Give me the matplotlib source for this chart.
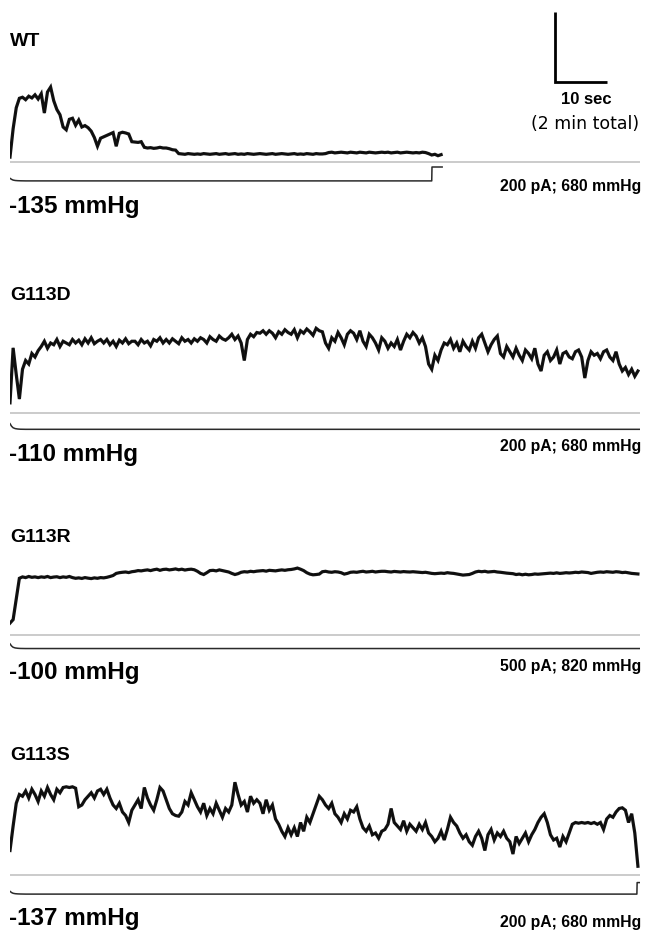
import numpy as np
import matplotlib
matplotlib.use("Agg")
import matplotlib.pyplot as plt

plt.rcParams['font.family'] = ['Liberation Sans', 'DejaVu Sans']

# ---------------- data ----------------
DT = 0.6
TOTAL_S = 121     # total record length shown (s) ~ 2 min

panels = ["WT", "G113D", "G113R", "G113S"]
pressure_labels = ["-135 mmHg", "-110 mmHg", "-100 mmHg", "-137 mmHg"]
scale_labels = ["200 pA; 680 mmHg", "200 pA; 680 mmHg",
                "500 pA; 820 mmHg", "200 pA; 680 mmHg"]
scale_pa = [200, 200, 500, 200]
scale_mmhg = [680, 680, 820, 680]
scale_sec = 10

# current traces (pA above closed level)
wt_current = [
    14, 95, 155, 182, 185, 178, 188, 183, 192, 180,
    195, 140, 200, 214, 175, 150, 135, 100, 92, 122,
    125, 105, 120, 100, 104, 98, 88, 70, 45, 68,
    72, 76, 80, 84, 45, 82, 85, 83, 80, 58,
    57, 56, 58, 42, 40, 41, 39, 40, 42, 40,
    40, 38, 35, 34, 24, 23, 22, 24, 23, 22,
    23, 22, 24, 23, 22, 23, 24, 22, 23, 24,
    22, 23, 24, 22, 23, 22, 24, 23, 22, 23,
    24, 23, 22, 23, 24, 22, 23, 24, 23, 22,
    23, 24, 22, 23, 22, 24, 23, 22, 24, 23,
    23, 24, 27, 28, 26, 27, 28, 27, 26, 28,
    27, 26, 28, 27, 26, 28, 27, 26, 27, 28,
    27, 28, 26, 27, 28, 26, 27, 28, 27, 26,
    27, 26, 28, 27, 24, 20, 22, 18, 21,
]

g113d_current = [
    29, 186, 110, 40, 125, 150, 140, 170, 160, 178,
    190, 205, 185, 200, 195, 210, 190, 205, 200, 195,
    210, 200, 208, 195, 212, 200, 215, 198, 205, 210,
    200, 210, 195, 205, 190, 208, 200, 212, 198, 205,
    205, 195, 210, 200, 205, 192, 210, 205, 215, 200,
    210, 200, 212, 205, 198, 215, 205, 210, 200, 212,
    205, 215, 210, 200, 218, 210, 205, 220, 212, 208,
    215, 225, 210, 220, 200, 150, 210, 225, 218, 230,
    228, 235, 225, 235, 228, 215, 232, 225, 238, 230,
    225, 238, 215, 235, 228, 240, 232, 222, 242, 235,
    232, 200, 185, 215, 205, 230, 215, 195, 225, 235,
    228, 210, 235, 205, 190, 225, 215, 200, 180, 215,
    205, 185, 200, 190, 210, 180, 205, 225, 215, 230,
    220, 200, 215, 190, 140, 125, 165, 150, 180, 200,
    195, 210, 185, 200, 175, 205, 190, 180, 205, 185,
    215, 225, 200, 175, 195, 210, 220, 170, 160, 190,
    175, 160, 185, 165, 150, 180, 170, 155, 185, 140,
    120, 165, 175, 150, 160, 180, 140, 170, 175, 160,
    155, 175, 180, 160, 100, 150, 175, 165, 170, 155,
    175, 180, 160, 150, 175, 140, 120, 130, 110, 125,
    105, 120,
]

g113r_current = [
    85, 110, 260, 405, 415, 410, 418, 412, 415, 410,
    415, 412, 418, 410, 414, 416, 410, 415, 412, 418,
    410, 405, 408, 404, 410, 406, 403, 408, 405, 410,
    408, 412, 418, 425, 440, 445, 448, 450, 446, 452,
    455, 460, 458, 462, 465, 460, 466, 470, 462, 468,
    470, 465, 468, 472, 466, 470, 464, 468, 470, 466,
    455, 440, 432, 445, 460, 462, 458, 465, 460, 455,
    450, 440, 432, 438, 448, 452, 450, 455, 452, 456,
    458, 460, 456, 462, 460, 458, 462, 465, 462, 466,
    468, 472, 478, 470, 460, 445, 435, 430, 432, 435,
    452, 455, 450, 448, 452, 450, 445, 435, 440, 448,
    450, 448, 452, 455, 450, 452, 455, 450, 453, 455,
    455, 452, 450, 454, 452, 450, 453, 451, 450, 452,
    450, 448, 446, 448, 444, 440, 438, 440, 442, 440,
    445, 442, 440, 436, 432, 428, 430, 432, 440, 450,
    455, 452, 455, 450, 452, 454, 450, 448, 445, 442,
    440, 438, 432, 435, 430, 434, 430, 432, 436, 434,
    436, 438, 440, 442, 440, 444, 440, 442, 445, 443,
    445, 448, 446, 450, 448, 446, 440, 444, 448, 450,
    448, 452, 450, 448, 452, 450, 446, 448, 444, 440,
    438, 436,
]

g113s_current = [
    70, 140, 205, 230, 225, 240, 220, 245, 230, 210,
    240, 225, 250, 230, 215, 245, 235, 250, 252, 250,
    252, 248, 195, 200, 215, 225, 235, 220, 240, 245,
    230, 245, 220, 200, 190, 205, 180, 170, 150, 185,
    200, 215, 190, 250, 220, 200, 185, 215, 250, 240,
    215, 190, 175, 170, 168, 180, 210, 200, 235, 215,
    195, 180, 205, 170, 190, 175, 205, 185, 165, 190,
    180, 200, 265, 230, 200, 210, 180, 225, 205, 215,
    205, 175, 215, 185, 200, 160, 145, 125, 110, 135,
    115, 135, 110, 150, 125, 165, 150, 175, 200, 225,
    215, 200, 190, 205, 175, 165, 150, 175, 160, 185,
    180, 195, 160, 135, 125, 140, 115, 120, 105, 125,
    130, 145, 190, 150, 140, 130, 155, 125, 145, 135,
    125, 145, 130, 150, 120, 110, 95, 105, 125, 100,
    130, 165, 150, 140, 120, 105, 115, 95, 85, 110,
    125, 105, 70, 115, 130, 100, 120, 110, 125, 105,
    95, 60, 110, 90, 105, 120, 95, 115, 130, 150,
    165, 175, 150, 115, 100, 105, 80, 110, 95, 120,
    145, 150, 148, 150, 148, 150, 147, 150, 145, 150,
    130, 160, 170, 165, 180, 190, 192, 185, 150, 175,
    120, 25,
]

# pressure command traces (time s, mmHg)
wt_p_time = [0, 0.3, 0.6, 1.0, 1.5, 2.0, 3.0, 81.0, 81.05, 83.0]
wt_p_value = [-110, -120, -127, -131, -133, -134, -135, -135, 0, 0]
g113d_p_time = [0, 0.3, 0.6, 1.0, 1.5, 2.0, 3.0, 121]
g113d_p_value = [-55, -80, -95, -103, -107, -109, -110, -110]
g113r_p_time = [0, 0.3, 0.6, 1.0, 1.5, 2.0, 3.0, 121]
g113r_p_value = [-45, -70, -85, -93, -97, -99, -100, -100]
g113s_p_time = [0, 0.3, 0.6, 1.0, 1.5, 2.0, 3.0, 120.4, 120.45, 121]
g113s_p_value = [-110, -122, -129, -133, -135, -136, -137, -137, -25, -25]

currents = [wt_current, g113d_current, g113r_current, g113s_current]
p_times = [wt_p_time, g113d_p_time, g113r_p_time, g113s_p_time]
p_values = [wt_p_value, g113d_p_value, g113r_p_value, g113s_p_value]

# ---------------- layout (pixels) ----------------
W, H = 647, 931
X0, X1 = 10, 640            # trace extent
CAL_PX = 70                 # height of the vertical calibration bar
base_px = [162, 413, 635, 875]
label_px = [42, 296, 537, 755]
ptext_px = [207, 455, 672, 918]
stext_px = [187, 447, 667, 922]

fig = plt.figure(figsize=(W / 100, H / 100), dpi=100)
fig.patch.set_facecolor('white')


def fx(x):
    return x / W


def fy(y):
    return 1 - y / H


for i in range(4):
    b = base_px[i]
    top, bot = b - 175, b + 45
    pos = [fx(X0), fy(bot), fx(X1 - X0), (bot - top) / H]
    k = scale_pa[i] / CAL_PX
    ax = fig.add_axes(pos)
    ax.set_xlim(0, TOTAL_S)
    ax.set_ylim(-(bot - b) * k, (b - top) * k)
    ax.axis('off')
    ax.axhline(0, color='#bdbdbd', lw=1.1, zorder=1)
    t = np.arange(len(currents[i])) * DT
    ax.plot(t, currents[i], color='#9a9a9a', lw=0.8, zorder=2)
    ax.plot(t, currents[i], color='black', lw=2.3, zorder=3,
            solid_joinstyle='miter', alpha=0.92)

    axp = fig.add_axes(pos)
    axp.patch.set_alpha(0)
    kp = scale_mmhg[i] / CAL_PX
    z = b + 5
    axp.set_xlim(0, TOTAL_S)
    axp.set_ylim(-(bot - z) * kp, (z - top) * kp)
    axp.axis('off')
    axp.plot(p_times[i], p_values[i], color='#2a2a2a', lw=1.1)

    if i == 0:
        # calibration bar: 10 s x 200 pA
        xs = 104.7
        ys = (b - 82) * k
        ax.plot([xs, xs, xs + scale_sec], [ys + scale_pa[0], ys, ys],
                color='black', lw=2.0, clip_on=False,
                solid_joinstyle='miter', solid_capstyle='butt')

    fig.text(fx(10), fy(label_px[i]), panels[i], fontsize=14,
             fontweight='bold', ha='left', va='center')
    fig.text(fx(9), fy(ptext_px[i]), pressure_labels[i], fontsize=17.5,
             fontweight='bold', ha='left', va='center')
    fig.text(fx(641), fy(stext_px[i]), scale_labels[i], fontsize=11.3,
             fontweight='bold', ha='right', va='center')

fig.text(fx(586), fy(100), "10 sec", fontsize=12, fontweight='bold',
         ha='center', va='center')
fig.text(fx(585), fy(124), "(2 min total)", fontsize=12.5,
         family=['DejaVu Sans'], ha='center', va='center')

fig.savefig("out.png", dpi=100, facecolor='white')
